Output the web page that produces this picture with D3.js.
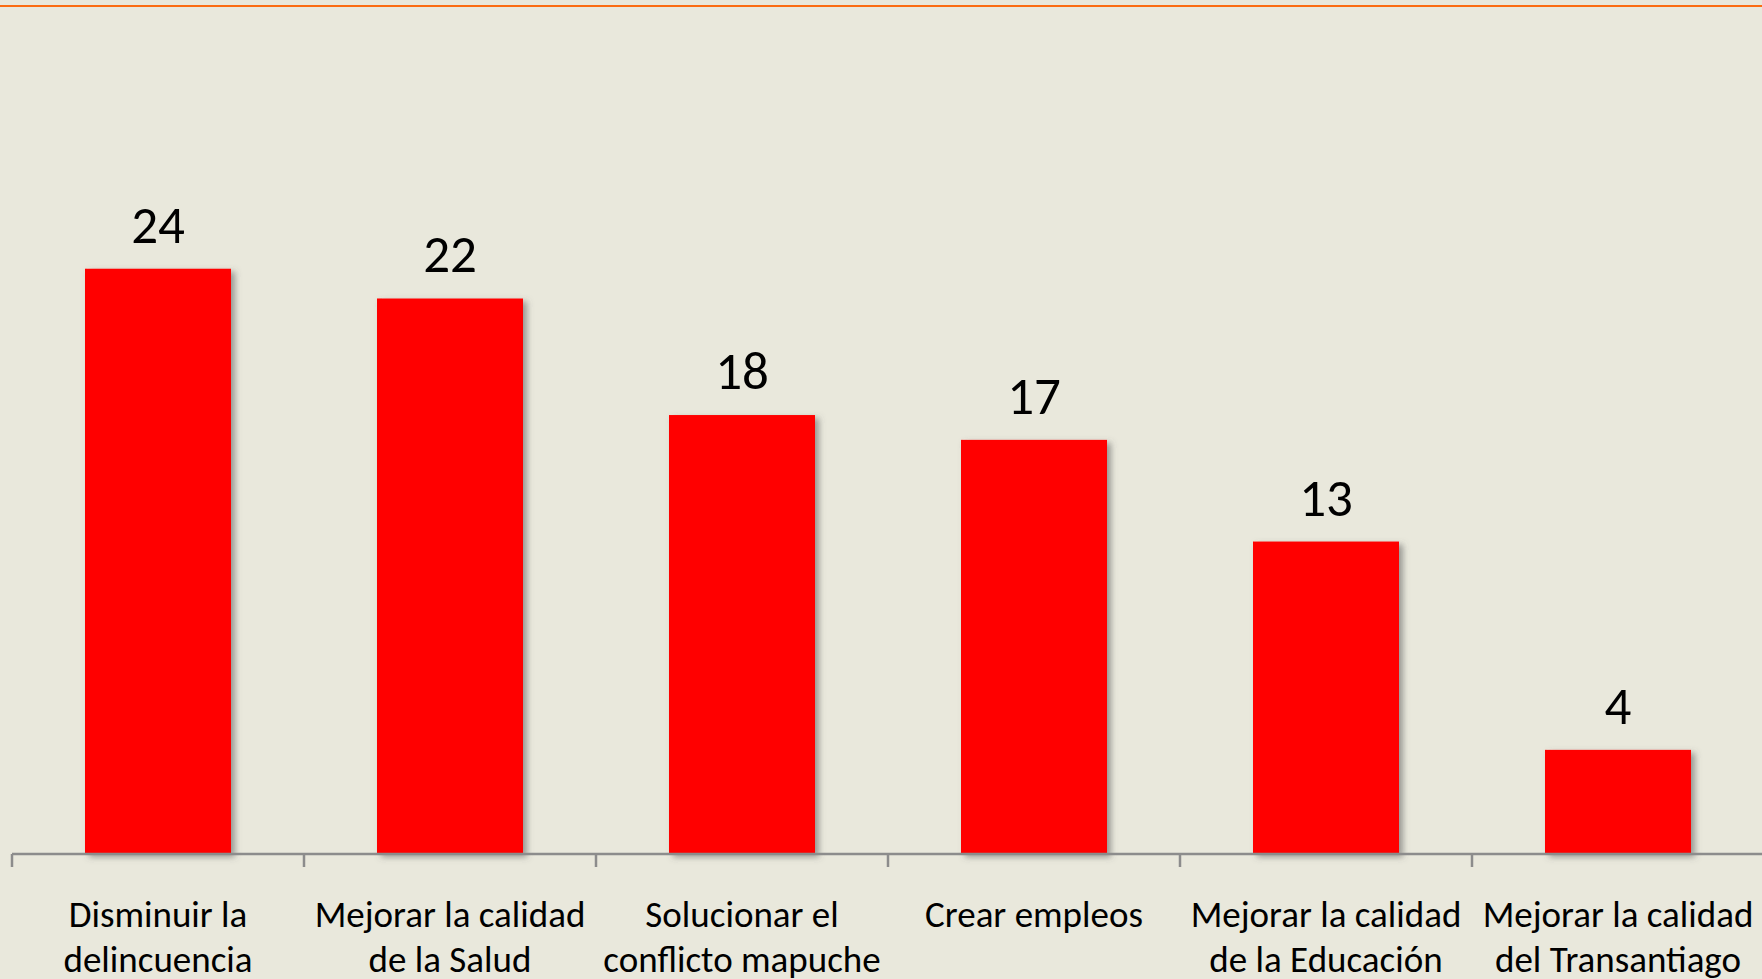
<!DOCTYPE html>
<html>
<head>
<meta charset="utf-8">
<script src="https://cdn.jsdelivr.net/npm/d3@7"></script>
<style>
  html, body { margin: 0; padding: 0; background: #e9e8dc; }
  svg { display: block; }
</style>
</head>
<body>
<div id="chart"></div>
<script>
// categories, split over two lines as in the original
const categories = [
  ['Disminuir la', 'delincuencia'],
  ['Mejorar la calidad', 'de la Salud'],
  ['Solucionar el', 'conflicto mapuche'],
  ['Crear empleos'],
  ['Mejorar la calidad', 'de la Educación'],
  ['Mejorar la calidad', 'del Transantiago']
];
const values = [23.6, 22.4, 17.7, 16.7, 12.6, 4.2];
const yDomain = [0, 30];

const width = 1762;
const height = 979;
const margin = { top: 110, right: -2, bottom: 125, left: 12 };
const baseY = height - margin.bottom;
const font = "Carlito, Calibri, Lato, sans-serif";

const svg = d3.select('#chart')
  .append('svg')
  .attr('width', width)
  .attr('height', height);

svg.append('rect')
  .attr('width', width)
  .attr('height', height)
  .attr('fill', '#e9e8dc');

// orange rule along the top
svg.append('line')
  .attr('x1', 0).attr('x2', width)
  .attr('y1', 6).attr('y2', 6)
  .attr('stroke', '#fb6c12')
  .attr('stroke-width', 2);

const shadow = svg.append('defs').append('filter')
  .attr('id', 'shadow')
  .attr('x', '-10%').attr('y', '-10%')
  .attr('width', '130%').attr('height', '130%');
shadow.append('feDropShadow')
  .attr('dx', 4).attr('dy', 3)
  .attr('stdDeviation', 3)
  .attr('flood-color', '#555')
  .attr('flood-opacity', 0.55);

const keys = categories.map((c, i) => i);

const x = d3.scaleBand()
  .domain(keys)
  .range([margin.left, width - margin.right])
  .paddingInner(0.5)
  .paddingOuter(0.25);

const y = d3.scaleLinear()
  .domain(yDomain)
  .range([baseY, margin.top]);

// bars
svg.append('g')
  .selectAll('rect')
  .data(values)
  .join('rect')
  .attr('x', (d, i) => x(i))
  .attr('y', d => y(d))
  .attr('width', x.bandwidth())
  .attr('height', d => baseY - y(d))
  .attr('fill', '#ff0000')
  .attr('filter', 'url(#shadow)');

// value labels
svg.append('g')
  .selectAll('text')
  .data(values)
  .join('text')
  .attr('x', (d, i) => x(i) + x.bandwidth() / 2)
  .attr('y', d => y(d) - 26)
  .attr('text-anchor', 'middle')
  .attr('font-family', font)
  .attr('font-size', 53)
  .attr('fill', '#000')
  .text(d => d3.format('.0f')(d));

// x axis: line with ticks on the band boundaries
const axis = svg.append('g')
  .attr('transform', `translate(0,${baseY})`)
  .call(d3.axisBottom(x).tickSize(0).tickSizeOuter(0).tickFormat(''));
axis.select('.domain')
  .attr('stroke', '#8c8c8c')
  .attr('stroke-width', 2.5)
  .attr('d', `M${margin.left},0H${width}`);

const gap = x.step() * x.paddingInner() / 2;
axis.selectAll('.boundary')
  .data(keys)
  .join('line')
  .attr('class', 'boundary')
  .attr('x1', d => x(d) - gap)
  .attr('x2', d => x(d) - gap)
  .attr('y1', 0)
  .attr('y2', 13)
  .attr('stroke', '#8c8c8c')
  .attr('stroke-width', 2.5);

// category labels
const labels = svg.append('g')
  .selectAll('text')
  .data(categories)
  .join('text')
  .attr('text-anchor', 'middle')
  .attr('font-family', font)
  .attr('font-size', 37)
  .attr('fill', '#000')
  .attr('transform', (d, i) => `translate(${x(i) + x.bandwidth() / 2},${baseY + 73})`);

labels.selectAll('tspan')
  .data(d => d)
  .join('tspan')
  .attr('x', 0)
  .attr('y', (d, j) => j * 45)
  .text(d => d);
</script>
</body>
</html>
